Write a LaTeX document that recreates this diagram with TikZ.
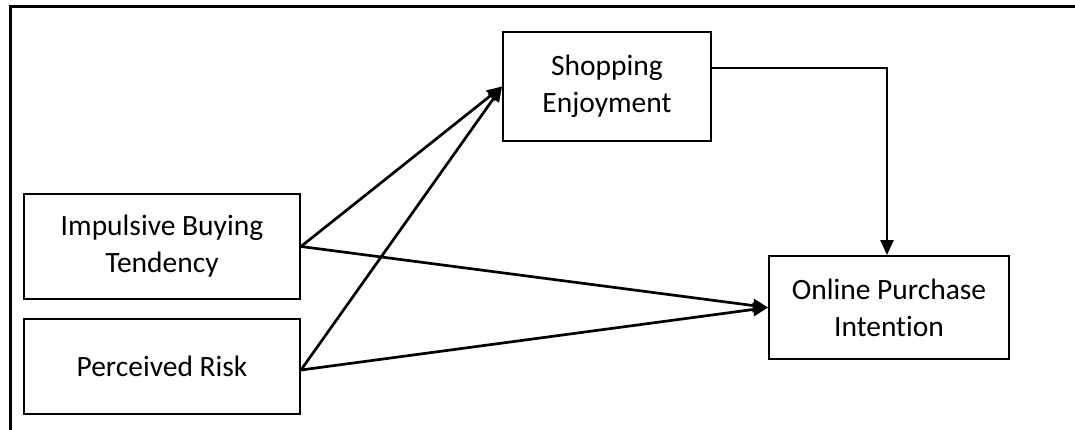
\documentclass[tikz,border=0pt]{standalone}
\usepackage{fontspec}
\setmainfont{Carlito}[Ligatures={NoCommon}]
\usetikzlibrary{arrows.meta}
\begin{document}
\begin{tikzpicture}[x=1pt,y=-1pt,
  box/.style={draw=black,line width=1.9pt,rectangle,inner sep=0pt,align=center,
    font=\fontsize{29.5}{37}\selectfont},
  conn/.style={line width=2.7pt,-{Triangle[length=15pt,width=13pt]}},
  frame/.style={line width=3pt}]
\useasboundingbox (0,0) rectangle (1075,430);
\draw[frame] (10,430) -- (10,7) coordinate (fc) -- (1075,7);
\node[box,minimum width=276pt,minimum height=105pt] (ibt) at (162,246.5) {Impulsive Buying\\Tendency};
\node[box,minimum width=276pt,minimum height=95pt] (pr) at (162,366.5) {Perceived Risk};
\node[box,minimum width=208pt,minimum height=109pt] (se) at (607,86.5) {Shopping\\Enjoyment};
\node[box,minimum width=240pt,minimum height=103pt] (opi) at (889,307.5) {Online Purchase\\Intention};
\coordinate (turn) at (887,68);
\draw[conn] (ibt.east) -- (se.west);
\draw[conn] (pr.east |- 0,370) -- (se.west);
\draw[conn] (ibt.east) -- (opi.west);
\draw[conn] (pr.east |- 0,370) -- (opi.west);
\draw[conn] (se.east |- turn) -- (turn) -- (opi.north -| turn);
\end{tikzpicture}
\end{document}
